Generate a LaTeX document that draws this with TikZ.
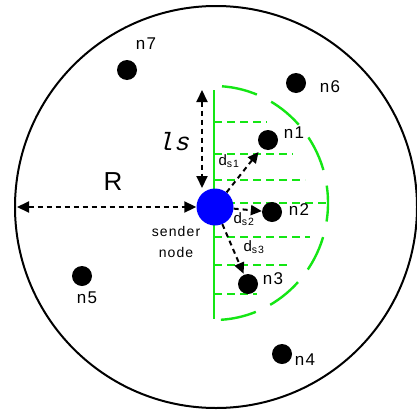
\documentclass[tikz,border=0pt]{standalone}
\usepackage{fontspec}
\setmainfont{Liberation Sans}
\newfontfamily\spacedfont[LetterSpace=8]{Liberation Sans}
\newfontfamily\lsfont[LetterSpace=6,FakeSlant=0.25]{Liberation Mono}
\usetikzlibrary{arrows.meta}
\definecolor{grn}{RGB}{20,230,20}
\begin{document}
\begin{tikzpicture}[x=1pt,y=-1pt,
  dot/.style={circle,fill=black,inner sep=0pt,minimum size=20pt},
  lbl/.style={inner sep=0pt,font=\spacedfont\fontsize{17}{19}\selectfont},
  dlbl/.style={inner sep=0pt,font=\spacedfont\fontsize{15}{17}\selectfont},
  darr/.style={black,line width=2pt,dash pattern=on 5pt off 4pt,-{Triangle[length=11pt,width=10pt]}},
  dbl/.style={black,line width=2pt,dash pattern=on 5pt off 4pt,{Triangle[length=12pt,width=11pt]}-{Triangle[length=12pt,width=11pt]}},
  gdash/.style={grn,line width=2pt,dash pattern=on 8pt off 5pt}]
\useasboundingbox (0,0) rectangle (417,415);
\fill[white] (0,0) rectangle (417,415);
% outer circle
\node[circle,draw=black,line width=2pt,minimum size=402pt,inner sep=0pt] (area) at (216,207) {};
% green zone
\coordinate (vt) at (214,90);
\coordinate (vb) at (214,319);
\draw[grn,line width=2.2pt] (vt) -- (vb);
\draw[grn,line width=2.4pt,dash pattern=on 36pt off 16pt,dash phase=44pt]
  (214,86) arc[start angle=-90,end angle=90,x radius=114,y radius=117];
\foreach \yy/\xx in {122/267,154/293,180/305,203/328,237/310,265/290,294/257}
  \draw[gdash] (214,\yy) -- (\xx,\yy);
% sender
\node[circle,fill=blue,inner sep=0pt,minimum size=37pt] (s) at (215,207) {};
% nodes
\node[dot] (n1) at (268,140) {};
\node[dot] (n2) at (272,212) {};
\node[dot] (n3) at (248,284) {};
\node[dot] (n4) at (282,354) {};
\node[dot] (n5) at (82,276) {};
\node[dot] (n6) at (296,83) {};
\node[dot] (n7) at (127,70) {};
\node[lbl] (l1) at (294,133) {n1};
\node[lbl] (l2) at (299,210) {n2};
\node[lbl] (l3) at (273,279) {n3};
\node[lbl] (l4) at (305,360) {n4};
\node[lbl] (l5) at (87,298) {n5};
\node[lbl] (l6) at (330,87) {n6};
\node[lbl] (l7) at (146,44) {n7};
% arrows
\draw[darr,shorten >=5pt] (s) -- (n1);
\draw[darr] (s) -- (n2);
\draw[darr,shorten >=1pt] (s) -- (n3);
\coordinate (rl) at (17,207);
\draw[dbl] (rl) -- (s.west);
\coordinate (lst) at (202,90);
\coordinate (lsb) at (202,188);
\draw[dbl] (lst) -- (lsb);
% labels
\node[inner sep=0pt,font=\fontsize{26}{28}\selectfont] (R) at (113,182) {R};
\node[inner sep=0pt,font=\lsfont\fontsize{25}{27}\selectfont] (ls) at (173,142) {ls};
\node[inner sep=0pt,font=\spacedfont\fontsize{14}{16}\selectfont,align=center] (snd) at (176,242) {sender\\[5pt]node};
\node[dlbl] (d1) at (229,161) {d\textsubscript{s1}};
\node[dlbl] (d2) at (244,219) {d\textsubscript{s2}};
\node[dlbl] (d3) at (254,247) {d\textsubscript{s3}};
\end{tikzpicture}
\end{document}
